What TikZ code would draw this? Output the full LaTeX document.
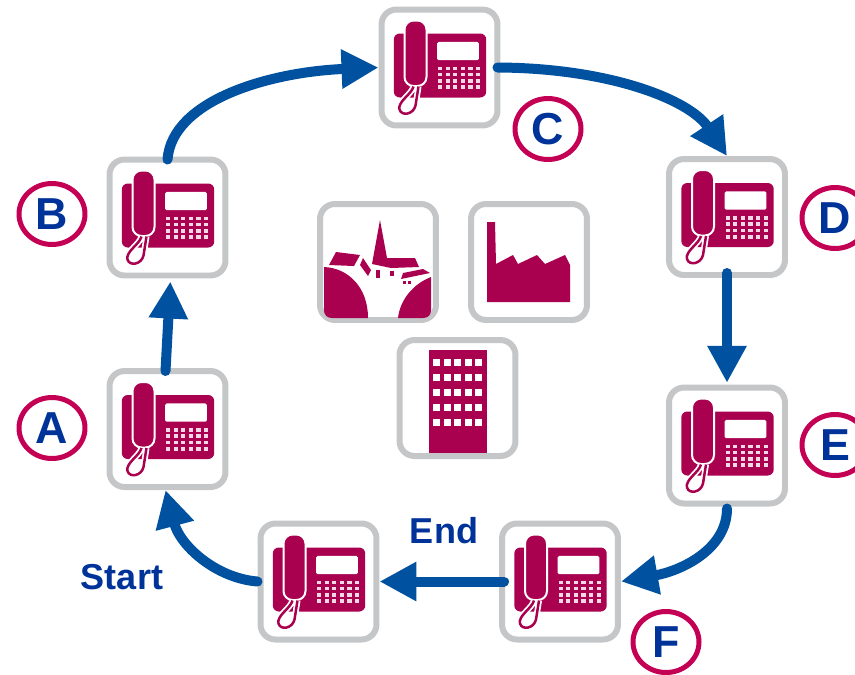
\documentclass[tikz,border=0pt]{standalone}
\usepackage{fontspec}
\setmainfont{Liberation Sans}
\usetikzlibrary{arrows.meta,shapes.geometric}
\definecolor{crimson}{RGB}{170,0,80}
\definecolor{ringred}{RGB}{196,0,84}
\definecolor{framegray}{RGB}{196,198,200}
\definecolor{flowblue}{RGB}{0,82,160}
\definecolor{textblue}{RGB}{0,51,153}
\tikzset{
  iconbox/.style={draw=framegray,fill=white,line width=0.12cm,rounded corners=0.3cm,minimum size=2.32cm,inner sep=0pt,outer sep=0.06cm},
  flow/.style={draw=flowblue,line width=0.2cm,line cap=round,-{Triangle[length=0.74cm,width=0.74cm]}},
  letter/.style={ellipse,draw=ringred,fill=white,line width=0.1cm,minimum width=1.32cm,minimum height=1.22cm,inner sep=0pt,text=textblue,font=\fontsize{25.5}{26}\selectfont\bfseries},
  caption/.style={text=textblue,font=\fontsize{20.5}{24}\selectfont\bfseries},
  phone/.pic={
    \fill[crimson,rounded corners=0.12cm] (-45.7,-34) rectangle (46.7,30);
    \fill[white,rounded corners=0.03cm] (-2.3,-25.7) rectangle (39.3,-7.3);
    \foreach \kx in {0,1,2,3,4,5}
      \foreach \ky in {0,1,2,3}
        \fill[white!85!crimson] (-1.5+7.6*\kx,-1+6.3*\ky) rectangle ++(4.2,3.6);
    \fill[crimson,draw=white,line width=0.04cm,rounded corners=0.18cm] (-35,-47) rectangle (-13,18.5);
    \draw[white,line width=0.12cm] (-26,19) .. controls (-28,27) and (-42,34) .. (-40,42) .. controls (-38,49) and (-26,47) .. (-24,38) -- (-21,19);
    \draw[crimson,line width=0.05cm] (-26,19) .. controls (-28,27) and (-42,34) .. (-40,42) .. controls (-38,49) and (-26,47) .. (-24,38) -- (-21,19);
  },
  village/.pic={
    \fill[crimson] (-54,5) .. controls (-30,6) and (-10,25) .. (-10,56) -- (-46,56) .. controls (-51,56) and (-54,53) .. (-54,48) -- cycle;
    \fill[crimson] (53,15) .. controls (35,22) and (22,38) .. (20,56) -- (45,56) .. controls (50,56) and (53,53) .. (53,48) -- cycle;
    \fill[crimson] (2,-42) -- (9,-4) -- (37,-4) -- (41,5) -- (13,6) -- (-6,2) -- cycle;
    \fill[crimson] (-42,-10) -- (-18,-7) -- (-24,4) -- (-49,3) -- cycle;
    \fill[crimson] (-15,-4) -- (-7,8) -- (-10,14) -- (-18,3) -- cycle;
    \fill[crimson] (25,11) -- (45,7) -- (52,11) -- (23,17) -- cycle;
    \fill[crimson] (-2,8) rectangle (2,16);
    \fill[crimson] (12,9) rectangle (16,14);
    \fill[crimson] (25,19) rectangle (28,22);
    \fill[crimson] (30,19) rectangle (33,22);
  },
  factory/.pic={
    \fill[crimson] (-42,-40) -- (-34,-40) -- (-33,2) -- (-16,-7) -- (-11,2) -- (8,-7) -- (16,2) -- (36,-7) -- (41,3) -- (41,40) -- (-42,40) -- cycle;
  },
  office/.pic={
    \fill[crimson] (-29,-48) rectangle (29,55);
    \foreach \wx in {-21,-10.5,0,10.5,21}
      \foreach \wy in {-36,-21,-6,9,24}
        \fill[white] (\wx-3.5,\wy-3.5) rectangle ++(7,7);
  }
}
\begin{document}
\begin{tikzpicture}[x=0.02cm,y=-0.02cm]
  \useasboundingbox (0,0) rectangle (855,674);
  % phones round the ring
  \foreach \name/\x/\y in {phA/167.5/429,phB/167.5/217.5,phC/439.5/67.5,phD/727/217,phE/727/445.5,phF/560/581.5,phG/318.5/581.5}{
    \node[iconbox] (\name) at (\x,\y) {};
    \pic at (\name) {phone};
  }
  % buildings in the middle
  \node[iconbox] (town) at (378,262) {};
  \pic at (town) {village};
  \node[iconbox] (works) at (529,262) {};
  \pic at (works) {factory};
  \node[iconbox] (tower) at (457.5,398) {};
  \pic at (tower) {office};
  % call path
  \draw[flow] (phG.west) .. controls (215,578) and (180,545) .. ([xshift=-0.04cm]phA.south);
  \draw[flow,shorten >=0.06cm] ([xshift=-0.04cm,yshift=-0.06cm]phA.north) -- ([xshift=0.06cm]phB.south);
  \draw[flow] ([yshift=-0.06cm]phB.north) .. controls (172,100) and (270,72) .. (phC.west);
  \draw[flow] ([xshift=-0.06cm]phC.east) .. controls (610,68) and (690,100) .. (phD.north);
  \draw[flow,shorten >=1pt] ([yshift=0.1cm]phD.south) -- (phE.north);
  \draw[flow] ([yshift=-0.04cm]phE.south) .. controls (727,550) and (680,571) .. (phF.east);
  \draw[flow] ([xshift=0.1cm]phF.west) -- (phG.east);
  % letters
  \foreach \name/\x/\y/\txt in {lbA/52/428/A,lbB/52/214/B,lbC/548/129/C,lbD/835/218/D,lbE/835/445/E,lbF/666/642/F}
    \node[letter] (\name) at (\x,\y) {\txt};
  \node[caption] (start) at (122,577) {Start};
  \node[caption] (end) at (444,531) {End};
\end{tikzpicture}
\end{document}
